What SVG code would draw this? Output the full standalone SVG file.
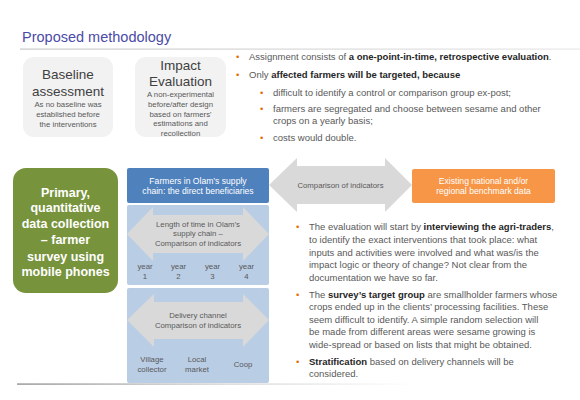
<svg xmlns="http://www.w3.org/2000/svg" width="580" height="400" viewBox="0 0 580 400">
<defs>
<linearGradient id="lineTop" x1="0" y1="0" x2="1" y2="0"><stop offset="0" stop-color="#c8c8c8"/><stop offset="1" stop-color="#e8e8e8"/></linearGradient>
<linearGradient id="lineBot" x1="0" y1="0" x2="1" y2="0"><stop offset="0" stop-color="#a0a0a0"/><stop offset="0.5" stop-color="#d8d8d8"/><stop offset="1" stop-color="#ffffff"/></linearGradient>
<style>
.t{font-family:"Liberation Sans",Arial,sans-serif;}
.gray{fill:#595959;}
.dark{fill:#262626;font-weight:bold;}
.bul{fill:#e46c0a;}
.body{font-size:9.5px;}
.sm{font-size:7.8px;fill:#595959;text-anchor:middle;}
.wt{fill:#ffffff;text-anchor:middle;font-size:8.6px;}
.hd{font-size:13.5px;fill:#404040;text-anchor:middle;}
.arr{fill:#d9d9d9;}
.lb{fill:#b9cde5;}
</style>
</defs>
<rect width="580" height="400" fill="#ffffff"/>
<text class="t" x="22" y="42" font-size="14.5" fill="#4b4ba6">Proposed methodology</text>
<rect x="20" y="48.5" width="560" height="1.2" fill="url(#lineTop)"/>
<rect x="17" y="383.3" width="400" height="1.6" fill="url(#lineBot)"/>

<g id="baseline">
<rect x="23" y="57" width="90" height="80" rx="11" fill="#f2f2f2"/>
<text class="t hd" x="68" y="79">Baseline</text>
<text class="t hd" x="68" y="96">assessment</text>
<text class="t sm" x="68" y="107">As no baseline was</text>
<text class="t sm" x="68" y="117">established before</text>
<text class="t sm" x="68" y="127">the interventions</text>
</g>
<g id="impact">
<rect x="135" y="57" width="91" height="80" rx="11" fill="#f2f2f2"/>
<text class="t hd" x="180.5" y="70">Impact</text>
<text class="t hd" x="180.5" y="86">Evaluation</text>
<text class="t sm" x="180.5" y="97">A non-experimental</text>
<text class="t sm" x="180.5" y="107">before/after design</text>
<text class="t sm" x="180.5" y="117">based on farmers'</text>
<text class="t sm" x="180.5" y="126">estimations and</text>
<text class="t sm" x="180.5" y="136">recollection</text>
</g>

<g id="top-bullets" class="t body">
<text class="bul" x="236" y="60">•</text>
<text class="gray" x="249" y="60">Assignment consists of <tspan class="dark">a one-point-in-time, retrospective evaluation</tspan>.</text>
<text class="bul" x="236" y="78">•</text>
<text class="gray" x="249" y="78">Only <tspan class="dark">affected farmers will be targeted, because</tspan></text>
<text class="bul" x="260" y="96">•</text>
<text class="gray" x="273" y="96">difficult to identify a control or comparison group ex-post;</text>
<text class="bul" x="260" y="112">•</text>
<text class="gray" x="273" y="112">farmers are segregated and choose between sesame and other</text>
<text class="gray" x="273" y="124">crops on a yearly basis;</text>
<text class="bul" x="260" y="141">•</text>
<text class="gray" x="273" y="141">costs would double.</text>
</g>

<g id="primary">
<rect x="13" y="168" width="105" height="125" rx="13" fill="#77933c"/>
<g class="t" font-size="12.5" font-weight="bold" fill="#ffffff" text-anchor="middle">
<text x="65.5" y="197">Primary,</text>
<text x="65.5" y="212">quantitative</text>
<text x="65.5" y="228">data collection</text>
<text x="65.5" y="244">– farmer</text>
<text x="65.5" y="261">survey using</text>
<text x="65.5" y="276">mobile phones</text>
</g>
</g>

<g id="farmers">
<rect x="127" y="168" width="142" height="35" rx="2" fill="#4f81bd"/>
<text class="t wt" x="198" y="184">Farmers in Olam’s supply</text>
<text class="t wt" x="198" y="194">chain: the direct beneficiaries</text>
</g>

<g id="benchmark">
<rect x="412" y="169" width="143" height="34" rx="2" fill="#f79646"/>
<text class="t wt" x="483.5" y="184">Existing national and/or</text>
<text class="t wt" x="483.5" y="194">regional benchmark data</text>
</g>

<g id="connectors">
<polygon class="arr" points="269,185 297,158 297,166 385,166 385,158 412,185 385,212 385,204 297,204 297,212"/>
<text class="t sm" x="340.5" y="187.5">Comparison of indicators</text>
</g>

<g id="length">
<rect class="lb" x="127" y="205" width="142" height="80" rx="2"/>
<polygon class="arr" points="127,234 153,207 153,215 243,215 243,207 269,234 243,261 243,253 153,253 153,261"/>
<text class="t sm" x="198" y="227">Length of time in Olam’s</text>
<text class="t sm" x="198" y="236">supply chain –</text>
<text class="t sm" x="198" y="246">Comparison of indicators</text>
<text class="t sm" x="145" y="269">year</text><text class="t sm" x="145" y="279">1</text>
<text class="t sm" x="178.5" y="269">year</text><text class="t sm" x="178.5" y="279">2</text>
<text class="t sm" x="212.5" y="269">year</text><text class="t sm" x="212.5" y="279">3</text>
<text class="t sm" x="246.5" y="269">year</text><text class="t sm" x="246.5" y="279">4</text>
</g>

<g id="delivery">
<rect class="lb" x="127" y="288" width="142" height="95" rx="2"/>
<polygon class="arr" points="127,320 154,294 154,302 243,302 243,294 269,320 243,347 243,339 154,339 154,347"/>
<text class="t sm" x="198" y="318">Delivery channel</text>
<text class="t sm" x="198" y="328">Comparison of indicators</text>
<text class="t sm" x="152" y="362">Village</text>
<text class="t sm" x="152" y="372">collector</text>
<text class="t sm" x="197" y="362">Local</text>
<text class="t sm" x="197" y="372">market</text>
<text class="t sm" x="243" y="367">Coop</text>
</g>

<g id="bottom-bullets" class="t body">
<text class="bul" x="296" y="230">•</text>
<text class="gray" x="309" y="230">The evaluation will start by <tspan class="dark">interviewing the agri-traders</tspan>,</text>
<text class="gray" x="309" y="243">to identify the exact interventions that took place: what</text>
<text class="gray" x="309" y="255.5">inputs and activities were involved and what was/is the</text>
<text class="gray" x="309" y="268">impact logic or theory of change? Not clear from the</text>
<text class="gray" x="309" y="280.5">documentation we have so far.</text>
<text class="bul" x="296" y="297.5">•</text>
<text class="gray" x="309" y="297.5">The <tspan class="dark">survey’s target group</tspan> are smallholder farmers whose</text>
<text class="gray" x="309" y="310">crops ended up in the clients’ processing facilities. These</text>
<text class="gray" x="309" y="322.5">seem difficult to identify. A simple random selection will</text>
<text class="gray" x="309" y="335">be made from different areas were sesame growing is</text>
<text class="gray" x="309" y="347.5">wide-spread or based on lists that might be obtained.</text>
<text class="bul" x="296" y="364.5">•</text>
<text class="gray" x="309" y="364.5"><tspan class="dark">Stratification</tspan> based on delivery channels will be</text>
<text class="gray" x="309" y="377">considered.</text>
</g>
</svg>
